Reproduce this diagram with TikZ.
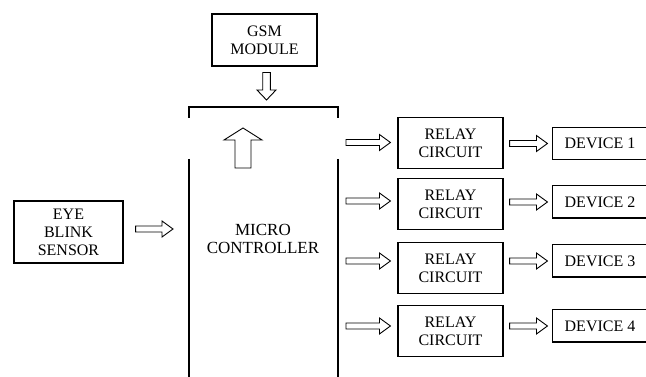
\documentclass[tikz,border=0pt]{standalone}
\usepackage{fontspec}
\setmainfont{Liberation Serif}
\usetikzlibrary{calc, positioning}

\tikzset{
  block/.style={draw, line width=1.1pt, align=center, inner sep=0pt,
    font=\fontsize{16}{18}\selectfont},
  relay/.style={block, minimum width=105pt, minimum height=51pt},
  device/.style={block, minimum width=94pt, minimum height=31pt, append after command={
    (\tikzlastnode.north west) edge[line width=1.1pt, -] ++(120,0)
    (\tikzlastnode.south west) edge[line width=1.1pt, -] ++(120,0)}, draw=none},
  hollow/.style n args={3}{draw, line width=0.9pt, line join=miter,
    to path={
      ($(\tikztotarget)!#3!(\tikztostart)$) coordinate (hb)
      ($(\tikztostart)!#1!-90:(\tikztotarget)$) -- ($(hb)!#1!-90:(\tikztotarget)$)
      -- ($(hb)!#2!-90:(\tikztotarget)$) -- (\tikztotarget)
      -- ($(hb)!#2!90:(\tikztotarget)$) -- ($(hb)!#1!90:(\tikztotarget)$)
      -- ($(\tikztostart)!#1!90:(\tikztotarget)$) -- cycle}},
}

\begin{document}
\begin{tikzpicture}[x=1pt, y=1pt]
  \path[use as bounding box] (0,0) rectangle (646,377);
  \clip (0,0) rectangle (646,377);

  \node[block, minimum width=105pt, minimum height=52pt] (gsm) at (264.5,337) {GSM\\MODULE};
  \node[block, minimum width=109pt, minimum height=62pt] (eye) at (68.5,145) {EYE\\BLINK\\SENSOR};

  % micro controller box, open at the bottom
  \coordinate (mtl) at (189,270);
  \coordinate (mtr) at (338,270);
  \node[block, draw=none, font=\fontsize{17}{18}\selectfont] (micro) at (263,138) {MICRO\\CONTROLLER};
  \draw[line width=1.1pt] ($(mtl)+(0,-11)$) -- (mtl) -- (mtr) -- ($(mtr)+(0,-11)$);
  \draw[line width=1.1pt] ($(mtl)+(0,-52)$) -- ($(mtl)+(0,-290)$);
  \draw[line width=1.1pt] ($(mtr)+(0,-52)$) -- ($(mtr)+(0,-290)$);

  \node[relay] (relay1) at (450.5,234) {RELAY\\CIRCUIT};
  \node[relay, below=9pt of relay1] (relay2) {RELAY\\CIRCUIT};
  \node[relay, below=12pt of relay2] (relay3) {RELAY\\CIRCUIT};
  \node[relay, below=11pt of relay3] (relay4) {RELAY\\CIRCUIT};

  % device boxes run off the right edge
  \node[device] (dev1) at (600,233.5) {DEVICE 1};
  \node[device] (dev2) at (600,175) {DEVICE 2};
  \node[device] (dev3) at (600,116) {DEVICE 3};
  \node[device] (dev4) at (600,51) {DEVICE 4};
  \draw[line width=1.1pt] (dev1.north west) -- (dev1.south west);
  \draw[line width=1.1pt] (dev2.north west) -- (dev2.south west);
  \draw[line width=1.1pt] (dev3.north west) -- (dev3.south west);
  \draw[line width=1.1pt] (dev4.north west) -- (dev4.south west);

  % arrows
  \draw[hollow={3.8pt}{9.5pt}{10pt}] ($(gsm.south)+(2,-6)$) to ($(gsm.south |- mtl)+(2,7)$);
  \draw[hollow={8pt}{19pt}{12pt}] ($(mtl)+(54,-61)$) to ($(mtl)+(54,-21)$);
  \draw[hollow={3pt}{8pt}{11pt}] ($(eye.east)+(12,3)$) to ($(eye.east -| mtl)+(-16,3)$);

  \draw[hollow={3pt}{8pt}{11pt}] ($(dev1.west -| mtr)+(8,1)$) to ($(dev1.west -| relay1.west)+(-7,1)$);
  \draw[hollow={3pt}{8pt}{11pt}] ($(dev2.west -| mtr)+(8,1)$) to ($(dev2.west -| relay2.west)+(-7,1)$);
  \draw[hollow={3pt}{8pt}{11pt}] ($(dev3.west -| mtr)+(8,0)$) to ($(dev3.west -| relay3.west)+(-7,0)$);
  \draw[hollow={3pt}{8pt}{11pt}] ($(dev4.west -| mtr)+(8,0)$) to ($(dev4.west -| relay4.west)+(-7,0)$);

  \draw[hollow={3pt}{8pt}{11pt}] ($(dev1.west -| relay1.east)+(6,0)$) to ($(dev1.west)+(-5,0)$);
  \draw[hollow={3pt}{8pt}{11pt}] ($(dev2.west -| relay2.east)+(6,0)$) to ($(dev2.west)+(-5,0)$);
  \draw[hollow={3pt}{8pt}{11pt}] ($(dev3.west -| relay3.east)+(6,0)$) to ($(dev3.west)+(-5,0)$);
  \draw[hollow={3pt}{8pt}{11pt}] ($(dev4.west -| relay4.east)+(6,0)$) to ($(dev4.west)+(-5,0)$);
\end{tikzpicture}
\end{document}
